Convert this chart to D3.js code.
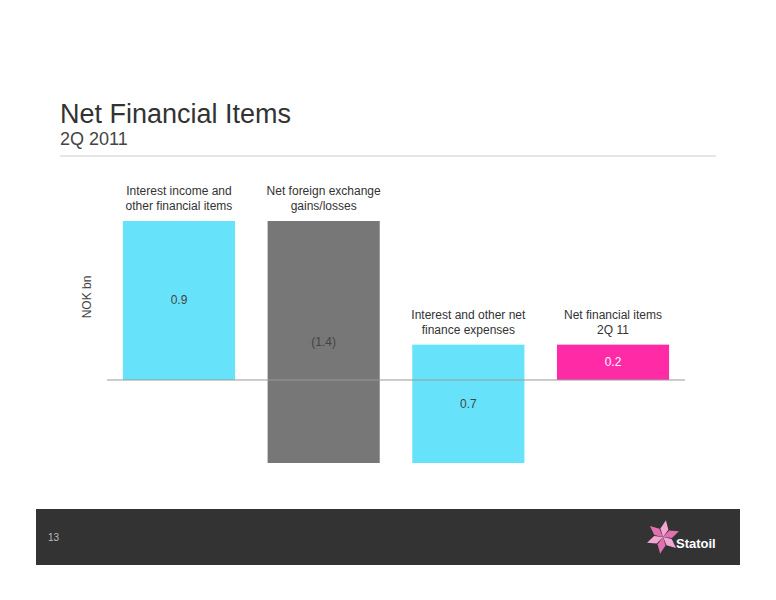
<!DOCTYPE html>
<html><head><meta charset="utf-8">
<script src="https://cdn.jsdelivr.net/npm/d3@7"></script>
<style>body{margin:0;background:#fff}svg{font-family:"Liberation Sans",Arial,sans-serif}</style>
</head><body>
<svg id="chart" width="776" height="600"></svg>
<script>
// waterfall data
var categories = ["Interest income and|other financial items", "Net foreign exchange|gains/losses", "Interest and other net|finance expenses", "Net financial items|2Q 11"];
var deltas = [0.9, -1.37, 0.67, null];   // last one is the total
var valueLabels = ["0.9", "(1.4)", "0.7", "0.2"];
var colors = ["#66e3fa", "#777777", "#66e3fa", "#ff2aa6"];

var svg = d3.select("#chart");

// build start/end for each bar
var run = 0, bars = [];
deltas.forEach(function(d, i) {
  if (d === null) bars.push({i: i, a: 0, b: run});
  else { bars.push({i: i, a: run, b: run + d}); run += d; }
});

var x = d3.scaleBand().domain(d3.range(categories.length)).range([107, 685]).paddingInner(0.225).paddingOuter(0.11);
var y = d3.scaleLinear().domain([-0.47, 0.9]).range([463, 221]);

// header
svg.append("text").attr("x", 60).attr("y", 123).attr("font-size", 27).attr("fill", "#333").text("Net Financial Items");
svg.append("text").attr("x", 60).attr("y", 145).attr("font-size", 18).attr("fill", "#444").text("2Q 2011");
svg.append("line").attr("x1", 60).attr("x2", 716).attr("y1", 156).attr("y2", 156).attr("stroke", "#ddd").attr("stroke-width", 1.5);

svg.append("text").attr("transform", "translate(91,297) rotate(-90)").attr("text-anchor", "middle")
  .attr("font-size", 12).attr("fill", "#444").text("NOK bn");

svg.selectAll("rect.bar").data(bars).enter().append("rect").attr("class", "bar")
  .attr("x", function(d) { return x(d.i); })
  .attr("width", x.bandwidth())
  .attr("y", function(d) { return y(Math.max(d.a, d.b)); })
  .attr("height", function(d) { return Math.abs(y(d.a) - y(d.b)); })
  .attr("fill", function(d) { return colors[d.i]; });

svg.append("line").attr("x1", 107).attr("x2", 685).attr("y1", y(0)).attr("y2", y(0)).attr("stroke", "#999");

svg.selectAll("text.val").data(bars).enter().append("text").attr("class", "val")
  .attr("x", function(d) { return x(d.i) + x.bandwidth() / 2; })
  .attr("y", function(d) { return (y(d.a) + y(d.b)) / 2 + 4; })
  .attr("text-anchor", "middle").attr("font-size", 12)
  .attr("fill", function(d) { return d.i === 3 ? "#fff" : "#444"; })
  .text(function(d) { return valueLabels[d.i]; });

bars.forEach(function(d) {
  var top = y(Math.max(d.a, d.b));
  var lines = categories[d.i].split("|");
  lines.forEach(function(t, k) {
    svg.append("text").attr("x", x(d.i) + x.bandwidth() / 2).attr("y", top - 26 + k * 15)
      .attr("text-anchor", "middle").attr("font-size", 12).attr("fill", "#333").text(t);
  });
});

// footer
svg.append("rect").attr("x", 36).attr("y", 509).attr("width", 704).attr("height", 56).attr("fill", "#333");
svg.append("text").attr("x", 48).attr("y", 541).attr("font-size", 10).attr("fill", "#bbb").text("13");
var star = svg.append("g").attr("transform", "translate(663,537)");
d3.range(6).forEach(function(k) {
  star.append("path").attr("d", "M0,0 L-4,-8 L0,-17 L4,-8 Z")
    .attr("fill", k % 2 ? "#e070b0" : "#f4a6d2").attr("transform", "rotate(" + (k * 60 + 10) + ")");
});
svg.append("text").attr("x", 676).attr("y", 548).attr("font-size", 13).attr("font-weight", "bold").attr("fill", "#fff").text("Statoil");
</script>
</body></html>
